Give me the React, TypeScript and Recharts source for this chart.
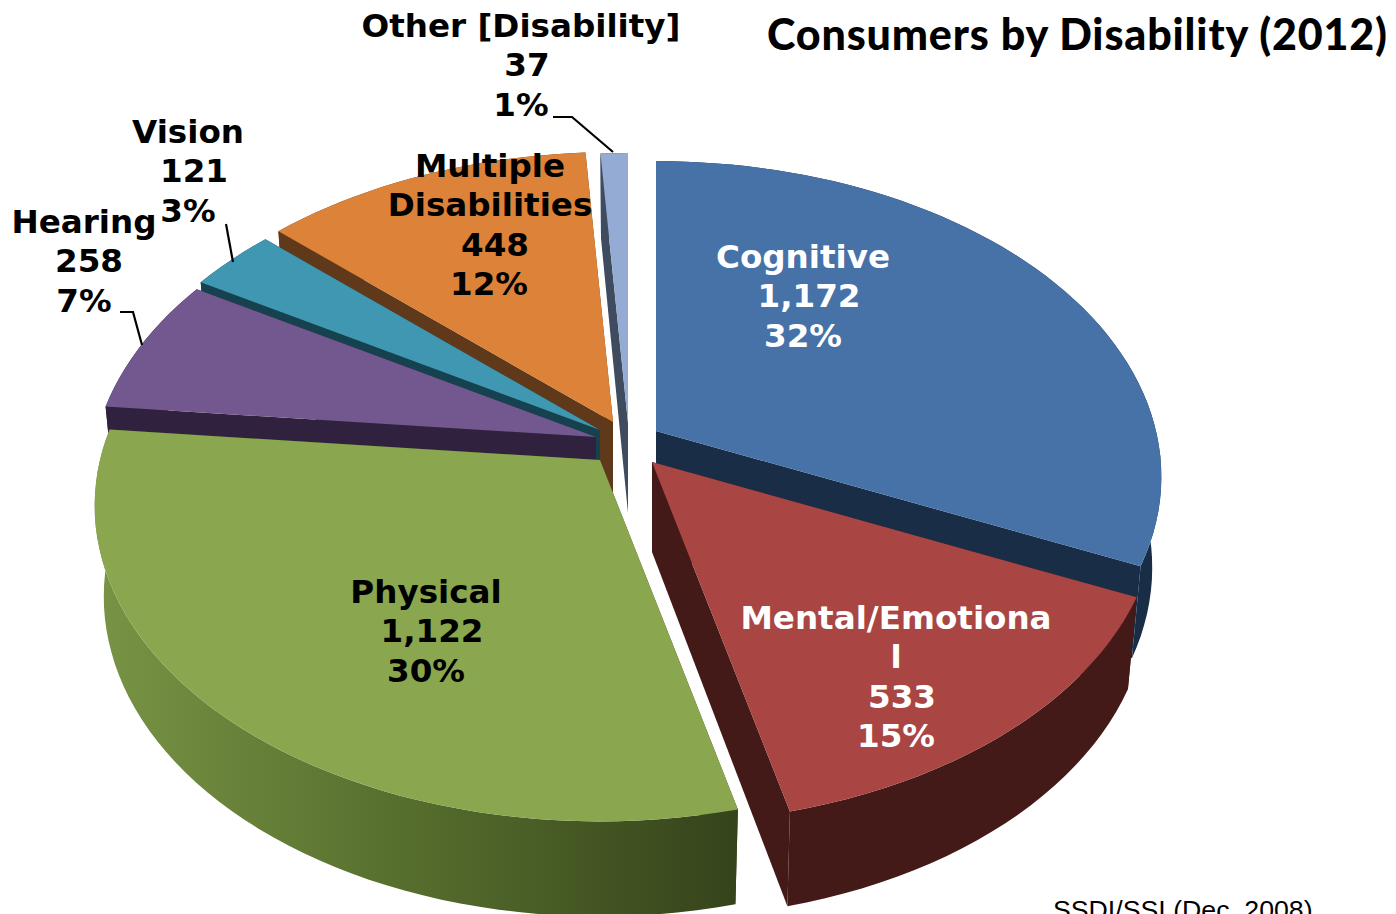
import React from 'react'
import { PieChart, Pie } from 'recharts'

// order is counter-clockwise starting with Cognitive, so the side walls paint back to front
const categories = ['Cognitive', 'Other [Disability]', 'Multiple Disabilities', 'Vision', 'Hearing', 'Physical', 'Mental/Emotional']
const consumers = [1172, 37, 448, 121, 258, 1122, 533]
const percents = ['32%', '1%', '12%', '3%', '7%', '30%', '15%']

const total = consumers.reduce((a, b) => a + b, 0)
const chartData = categories.map((name, i) => ({ name, value: consumers[i], pct: percents[i] }))

const START_ANGLE = 90 - (consumers[0] / total) * 360

const TOP_COLORS: Record<string, string> = {
  Cognitive: '#4672a8',
  'Other [Disability]': '#94abd3',
  'Multiple Disabilities': '#dc8239',
  Vision: '#3f97b1',
  Hearing: '#72588f',
  Physical: '#8aa64f',
  'Mental/Emotional': '#a94644'
}

const WALL_COLORS: Record<string, string> = {
  Cognitive: '#1a2d47',
  'Other [Disability]': '#3f4b5e',
  'Multiple Disabilities': '#60381a',
  Vision: '#16414f',
  Hearing: '#30213f',
  Physical: '#3a4820',
  'Mental/Emotional': '#431a18'
}

// where each exploded slice has its tip on screen
const APEX: Record<string, [number, number]> = {
  Cognitive: [656, 431],
  'Other [Disability]': [628, 423],
  'Multiple Disabilities': [613, 422],
  Vision: [600, 430],
  Hearing: [596, 437],
  Physical: [600, 460],
  'Mental/Emotional': [652, 462]
}

const LABELS: Record<string, { x: number; y: number; fill: string; lines: [string, number][] }> = {
  Cognitive: { x: 803, y: 268, fill: '#fff', lines: [['Cognitive', 0], ['1,172', 6], ['32%', 0]] },
  'Other [Disability]': { x: 521, y: 37, fill: '#000', lines: [['Other [Disability]', 0], ['37', 6], ['1%', 0]] },
  'Multiple Disabilities': { x: 490, y: 177, fill: '#000', lines: [['Multiple', 0], ['Disabilities', 0], ['448', 5], ['12%', -1]] },
  Vision: { x: 188, y: 143, fill: '#000', lines: [['Vision', 0], ['121', 6], ['3%', 0]] },
  Hearing: { x: 84, y: 233, fill: '#000', lines: [['Hearing', 0], ['258', 5], ['7%', 0]] },
  Physical: { x: 426, y: 603, fill: '#000', lines: [['Physical', 0], ['1,122', 6], ['30%', 0]] },
  'Mental/Emotional': { x: 896, y: 629, fill: '#fff', lines: [['Mental/Emotiona', 0], ['l', 0], ['533', 6], ['15%', 0]] }
}

const LEADERS: Record<string, string> = {
  'Other [Disability]': '553,117 572,117 613,152',
  Vision: '226,224 233,262',
  Hearing: '120,312 133,312 142,345'
}

const SX = 500
const SY = 309
const PERSP = 0.145
const WALL_SCALE = 0.982
const WALL_DEPTH = 90

const project = (deg: number, apex: [number, number], wall = false) => {
  const a = (deg * Math.PI) / 180
  const u = Math.cos(a)
  const v = -Math.sin(a)
  const den = 1 - PERSP * v
  let x = (SX * u) / den
  let y = (SY * v) / den
  if (wall) {
    x *= WALL_SCALE
    y += WALL_DEPTH + 5 * v
  }
  return `${(apex[0] + x).toFixed(1)},${(apex[1] + y).toFixed(1)}`
}

const arcPoints = (start: number, end: number, apex: [number, number], wall = false) => {
  const pts: string[] = []
  const steps = Math.max(2, Math.ceil(Math.abs(end - start) / 2))
  for (let i = 0; i <= steps; i++) pts.push(project(start + ((end - start) * i) / steps, apex, wall))
  return pts
}

const TopSlice = (props: any) => {
  const { name, startAngle, endAngle } = props
  const apex = APEX[name]
  const pts = [`${apex[0]},${apex[1]}`, ...arcPoints(startAngle, endAngle, apex)]
  return <polygon points={pts.join(' ')} fill={TOP_COLORS[name]} />
}

const WallSlice = (props: any) => {
  const { name, startAngle, endAngle } = props
  const apex = APEX[name]
  const low = `${apex[0]},${apex[1] + WALL_DEPTH}`
  const tip = `${apex[0]},${apex[1]}`
  const fill = WALL_COLORS[name]
  const outerFill = name === 'Physical' ? 'url(#physicalWall)' : fill
  const outer = [...arcPoints(startAngle, endAngle, apex), ...arcPoints(startAngle, endAngle, apex, true).reverse()]
  return (
    <g>
      <polygon points={[tip, project(startAngle, apex), project(startAngle, apex, true), low].join(' ')} fill={fill} />
      <polygon points={[tip, project(endAngle, apex), project(endAngle, apex, true), low].join(' ')} fill={fill} />
      <polygon points={outer.join(' ')} fill={outerFill} />
    </g>
  )
}

const renderLabel = (props: any) => {
  const cfg = LABELS[props.name]
  return (
    <g key={props.name}>
      {LEADERS[props.name] && <polyline points={LEADERS[props.name]} fill="none" stroke="#000" strokeWidth={2.2} />}
      {cfg.lines.map(([line, dx], i) => (
        <text
          key={i}
          x={cfg.x + dx}
          y={cfg.y + i * 39.3}
          textAnchor="middle"
          fill={cfg.fill}
          fontFamily="'DejaVu Sans', sans-serif"
          fontWeight="bold"
          fontSize={32.6}
        >
          {line}
        </text>
      ))}
    </g>
  )
}

export default function App() {
  return (
    <div style={{ position: 'absolute', left: 0, top: 0, width: 1396, height: 914, overflow: 'hidden', background: '#fff' }}>
      <PieChart width={1396} height={914} margin={{ top: 0, right: 0, bottom: 0, left: 0 }}>
        <defs>
          <linearGradient id="physicalWall" gradientUnits="userSpaceOnUse" x1="100" y1="0" x2="740" y2="0">
            <stop offset="0" stopColor="#789345" />
            <stop offset="0.45" stopColor="#58702e" />
            <stop offset="1" stopColor="#35431b" />
          </linearGradient>
        </defs>
        <Pie
          data={chartData}
          dataKey="value"
          nameKey="name"
          cx={640}
          cy={450}
          outerRadius={300}
          startAngle={START_ANGLE}
          endAngle={START_ANGLE + 360}
          stroke="none"
          shape={WallSlice}
          isAnimationActive={false}
        />
        <Pie
          data={chartData}
          dataKey="value"
          nameKey="name"
          cx={640}
          cy={450}
          outerRadius={300}
          startAngle={START_ANGLE}
          endAngle={START_ANGLE + 360}
          stroke="none"
          shape={TopSlice}
          label={renderLabel}
          labelLine={false}
          isAnimationActive={false}
        />
      </PieChart>
      <div style={{ position: 'absolute', left: 767, top: 8, fontFamily: 'Lato, sans-serif', fontWeight: 900, fontSize: 43, letterSpacing: 0.85, color: '#000', whiteSpace: 'nowrap' }}>
        Consumers by Disability (2012)
      </div>
      <div style={{ position: 'absolute', left: 1053, top: 895, fontFamily: "'Liberation Sans', sans-serif", fontSize: 26.7, color: '#000', whiteSpace: 'nowrap' }}>
        SSDI/SSI (Dec. 2008)
      </div>
    </div>
  )
}
